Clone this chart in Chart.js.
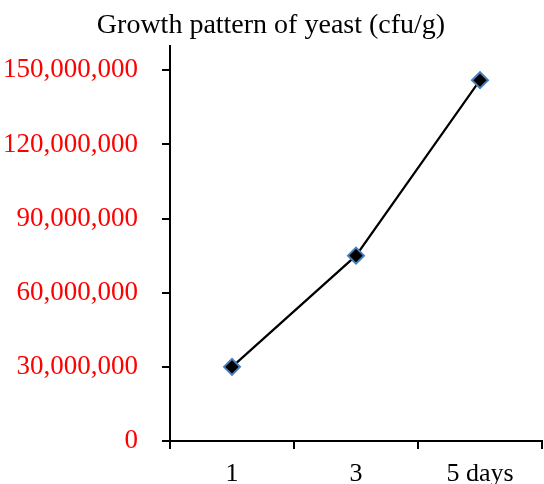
<!DOCTYPE html>
<html>
<head>
<meta charset="utf-8">
<script src="https://cdn.jsdelivr.net/npm/chart.js@4"></script>
<style>
    html, body { margin: 0; padding: 0; background: #fff; }
    #wrap { width: 544px; height: 484px; }
</style>
</head>
<body>
<div id="wrap"><canvas id="yeastChart" width="544" height="484"></canvas></div>
<script>
const days = ['1', '3', '5 days'];
const yeastCounts = [30000000, 75000000, 146000000];
const yTickValues = [0, 30000000, 60000000, 90000000, 120000000, 150000000];
const yAxisMax = 160000000;

const serif = '"Liberation Serif", "Times New Roman", serif';

const ctx = document.getElementById('yeastChart').getContext('2d');
new Chart(ctx, {
    type: 'line',
    data: {
        labels: days,
        datasets: [
            {
                label: 'Yeast (cfu/g)',
                data: yeastCounts,
                borderColor: '#000000',
                borderWidth: 2.2,
                tension: 0,
                pointStyle: 'rectRot',
                pointRadius: 8,
                pointBackgroundColor: '#000000',
                pointBorderColor: '#4a7ebb',
                pointBorderWidth: 2,
            },
        ],
    },
    options: {
        responsive: false,
        animation: false,
        layout: {
            autoPadding: false,
            padding: { left: 0, right: 2, top: 0, bottom: 0 },
        },
        plugins: {
            legend: { display: false },
            tooltip: { enabled: false },
            title: {
                display: true,
                text: 'Growth pattern of yeast (cfu/g)',
                color: '#000000',
                font: { family: serif, size: 28, weight: 'normal' },
                padding: { top: 9, bottom: 3 },
            },
        },
        scales: {
            x: {
                offset: true,
                grid: {
                    offset: true,
                    drawOnChartArea: false,
                    color: '#000000',
                    lineWidth: 2,
                    tickLength: 8,
                },
                border: { color: '#000000', width: 2 },
                ticks: {
                    color: '#000000',
                    padding: 10,
                    maxRotation: 0,
                    font: { family: serif, size: 26 },
                },
                afterFit(scale) {
                    scale.height = 43;
                    scale.paddingLeft = 0;
                    scale.paddingRight = 0;
                },
            },
            y: {
                min: 0,
                max: yAxisMax,
                grid: {
                    drawOnChartArea: false,
                    color: '#000000',
                    lineWidth: 2,
                    tickLength: 8,
                },
                border: { color: '#000000', width: 2 },
                ticks: {
                    autoSkip: false,
                    color: '#ff0000',
                    padding: 24,
                    font: { family: serif, size: 27 },
                    callback(value) {
                        return value.toLocaleString('en-US');
                    },
                },
                afterBuildTicks(scale) {
                    scale.ticks = yTickValues.map((value) => ({ value }));
                },
                afterFit(scale) {
                    scale.width = 170;
                },
            },
        },
    },
});
</script>
</body>
</html>
